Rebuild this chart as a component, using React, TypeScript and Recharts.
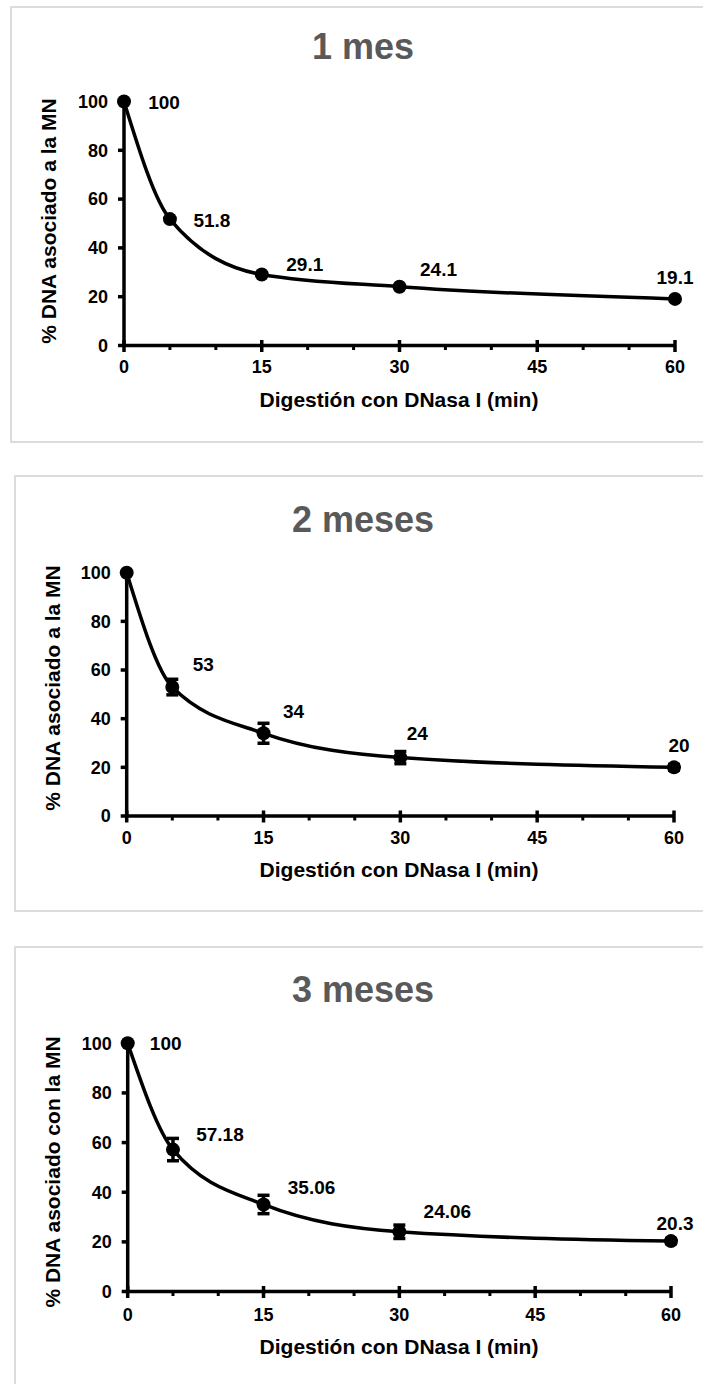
import React from 'react';
import { LineChart, Line, XAxis, YAxis, ErrorBar, LabelList } from 'recharts';

// ---------- data ----------
const minutes = [0, 5, 15, 30, 60];

const mes1Values = [100, 51.8, 29.1, 24.1, 19.1];
const mes1Errors = [0, 0, 0, 0, 0];
const mes1Labels = ['100', '51.8', '29.1', '24.1', '19.1'];

const mes2Values = [100, 53, 34, 24, 20];
const mes2Errors = [0, 3.2, 4.1, 2.5, 1.2];
const mes2Labels = ['', '53', '34', '24', '20'];

const mes3Values = [100, 57.18, 35.06, 24.06, 20.3];
const mes3Errors = [0, 4.5, 3.7, 2.7, 1];
const mes3Labels = ['100', '57.18', '35.06', '24.06', '20.3'];

const panelTitles = ['1 mes', '2 meses', '3 meses'];
const yTitles = ['% DNA asociado a la MN', '% DNA asociado a la MN', '% DNA asociado con la MN'];
const xTitle = 'Digestión con DNasa I (min)';
const xTicks = [0, 5, 10, 15, 20, 25, 30, 35, 40, 45, 50, 55, 60];
const xMajorTicks = [0, 15, 30, 45, 60];
const yTicks = [0, 20, 40, 60, 80, 100];

// ---------- layout (not data) ----------
const FONT = '"Liberation Sans", Arial, Helvetica, sans-serif';
const W = 703;
const CH = 420;

const layouts = [
  { x0: 124, x60: 675, y100: 101.5, y0: 345.5, top: 6, left: 10, bottom: 443, titleY: 47, tickY: 367, xTitleY: 400, yTitleX: 49, yTitleY: 220.5,
    ldx: [40, 42, 43, 39, 0], ldy: [1, 1.5, -9.5, -17, -21] },
  { x0: 126.7, x60: 674, y100: 572.7, y0: 816, top: 475, left: 13.5, bottom: 912, titleY: 520, tickY: 838, xTitleY: 870, yTitleX: 53, yTitleY: 687.5,
    ldx: [0, 31, 30, 17, 5], ldy: [0, -23, -22, -24, -22] },
  { x0: 127.7, x60: 671, y100: 1043.3, y0: 1291.5, top: 946, left: 13.5, bottom: 1420, titleY: 990, tickY: 1315, xTitleY: 1347, yTitleX: 53, yTitleY: 1172,
    ldx: [38, 47, 48, 48, 4], ldy: [0, -15, -17, -20, -18] },
];

const series = [
  { values: mes1Values, errors: mes1Errors, labels: mes1Labels },
  { values: mes2Values, errors: mes2Errors, labels: mes2Labels },
  { values: mes3Values, errors: mes3Errors, labels: mes3Labels },
];

const AXIS_W = 3.5;

const XTick = (props: any) => {
  const { x, y, payload, labelOffset } = props;
  const v = payload.value;
  const major = xMajorTicks.includes(v);
  return (
    <g>
      {major ? (
        <line x1={x} x2={x} y1={y - 5.5} y2={y + 6.5} stroke="#000" strokeWidth={3.5} />
      ) : (
        <line x1={x} x2={x} y1={y} y2={y + 4.5} stroke="#000" strokeWidth={3} />
      )}
      {major && (
        <text x={x} y={y + labelOffset} textAnchor="middle" dominantBaseline="central"
          fontFamily={FONT} fontWeight="bold" fontSize={18} fill="#000">{v}</text>
      )}
    </g>
  );
};

function Panel({ idx }: { idx: number }) {
  const L = layouts[idx];
  const S = series[idx];
  const data = minutes.map((m, i) => ({ x: m, y: S.values[i], err: S.errors[i], label: S.labels[i] }));
  const yAxisW = 60;
  const xAxisH = 60;
  const margin = {
    top: L.y100 - L.top,
    left: L.x0 - yAxisW,
    right: W - L.x60,
    bottom: CH - (L.y0 - L.top) - xAxisH,
  };
  const renderLabel = (p: any) => {
    const i = p.index;
    const txt = S.labels[i];
    if (!txt) return null;
    return (
      <text x={p.x + L.ldx[i]} y={p.y + L.ldy[i]} textAnchor="middle" dominantBaseline="central"
        fontFamily={FONT} fontWeight="bold" fontSize={19} fill="#000">{txt}</text>
    );
  };
  return (
    <>
      <div style={{
        position: 'absolute', left: L.left, top: L.top, width: 760, height: L.bottom - L.top,
        border: '2px solid #dcdcdc', boxSizing: 'border-box', background: '#fff',
      }} />
      <div style={{
        position: 'absolute', left: 0, width: 726, top: L.titleY - 18, height: 36, lineHeight: '36px',
        textAlign: 'center', fontFamily: FONT, fontWeight: 'bold', fontSize: 36, color: '#595959', whiteSpace: 'nowrap',
      }}>{panelTitles[idx]}</div>
      <div style={{ position: 'absolute', left: 0, top: L.top, width: W, height: CH }}>
        <LineChart width={W} height={CH} data={data} margin={margin}>
          <XAxis dataKey="x" type="number" domain={[0, 60]} ticks={xTicks} interval={0}
            tickSize={0} tickMargin={0} height={xAxisH}
            stroke="#000" strokeWidth={AXIS_W}
            axisLine={{ stroke: '#000', strokeWidth: AXIS_W }} tickLine={false}
            tick={<XTick labelOffset={L.tickY - L.y0} />} />
          <YAxis type="number" domain={[0, 100]} ticks={yTicks} interval={0} width={yAxisW}
            tickSize={6} tickMargin={10}
            stroke="#000" strokeWidth={AXIS_W}
            axisLine={{ stroke: '#000', strokeWidth: AXIS_W }}
            tickLine={{ stroke: '#000', strokeWidth: 3.5 }}
            tick={{ fill: '#000', stroke: 'none', fontSize: 18, fontWeight: 'bold', fontFamily: FONT }} />
          <Line type="monotone" dataKey="y" stroke="#000" strokeWidth={3.5} isAnimationActive={false}
            dot={{ r: 7, fill: '#000', stroke: '#000', strokeWidth: 0 }} activeDot={false}>
            <ErrorBar dataKey="err" width={6} strokeWidth={3.5} stroke="#000" direction="y" isAnimationActive={false} />
            <LabelList dataKey="label" content={renderLabel} />
          </Line>
        </LineChart>
      </div>
      <div style={{
        position: 'absolute', left: 0, width: 798, top: L.xTitleY - 12, height: 24, lineHeight: '24px',
        textAlign: 'center', fontFamily: FONT, fontWeight: 'bold', fontSize: 21, color: '#000', whiteSpace: 'nowrap',
      }}>{xTitle}</div>
      <div style={{
        position: 'absolute', left: L.yTitleX, top: L.yTitleY, width: 0, height: 0,
      }}>
        <div style={{
          position: 'absolute', left: 0, top: 0, transform: 'translate(-50%, -50%) rotate(-90deg)',
          fontFamily: FONT, fontWeight: 'bold', fontSize: 21, lineHeight: '24px', color: '#000', whiteSpace: 'nowrap',
        }}>{yTitles[idx]}</div>
      </div>
    </>
  );
}

export default function App() {
  return (
    <div style={{ position: 'absolute', left: 0, top: 0, width: W, height: 1384, overflow: 'hidden', background: '#fff' }}>
      <Panel idx={0} />
      <Panel idx={1} />
      <Panel idx={2} />
    </div>
  );
}
